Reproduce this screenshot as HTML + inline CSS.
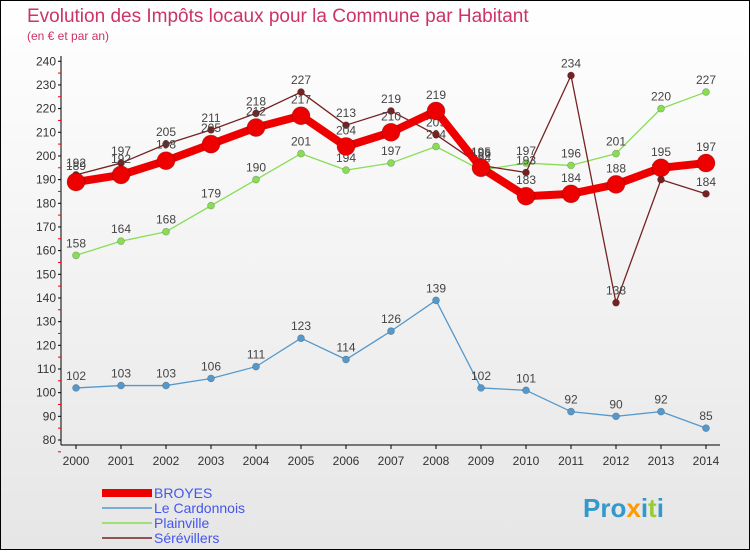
<!DOCTYPE html>
<html><head><meta charset="utf-8"><style>
body{margin:0;width:750px;height:550px;overflow:hidden;font-family:"Liberation Sans",sans-serif}
svg text{font-family:"Liberation Sans",sans-serif}
</style></head><body>
<svg id="c" width="750" height="550" xmlns="http://www.w3.org/2000/svg">
<defs><linearGradient id="bg" x1="0" y1="0" x2="0" y2="1"><stop offset="0" stop-color="#ffffff"/><stop offset="1" stop-color="#e6e6e6"/></linearGradient></defs>
<rect x="0.5" y="0.5" width="749" height="549" fill="url(#bg)" stroke="#000"/>
<text x="27" y="22" font-size="19" fill="#cc3366">Evolution des Impôts locaux pour la Commune par Habitant</text>
<text x="27" y="40" font-size="12" fill="#cc3366">(en € et par an)</text>
<g id="axes"></g><g id="series"></g><g id="legend"></g>
<text x="583" y="517" font-size="26" font-weight="bold" fill="#3399cc">Pro<tspan fill="#ff9900">x</tspan>i<tspan fill="#99cc33">t</tspan>i</text>
</svg>
<script>
const years=[2000,2001,2002,2003,2004,2005,2006,2007,2008,2009,2010,2011,2012,2013,2014];
const yTicks=[80,90,100,110,120,130,140,150,160,170,180,190,200,210,220,230,240];
const broyes=[189,192,198,205,212,217,204,210,219,195,183,184,188,195,197];
const cardonnois=[102,103,103,106,111,123,114,126,139,102,101,92,90,92,85];
const plainville=[158,164,168,179,190,201,194,197,204,194,197,196,201,220,227];
const serevillers=[192,197,205,211,218,227,213,219,209,196,193,234,138,190,184];
const NS="http://www.w3.org/2000/svg";
const xS=i=>76+i*45, yS=v=>440-(v-80)*2.367;
function mk(t,a,p){const e=document.createElementNS(NS,t);for(const k in a)e.setAttribute(k,a[k]);p.appendChild(e);return e;}
const ax=document.getElementById('axes');
let l=mk('line',{x1:61,y1:56,x2:61,y2:445,stroke:'#000'},ax);


l=mk('line',{x1:61,y1:445,x2:720,y2:445,stroke:'#000'},ax);


yTicks.forEach(v=>{const y=yS(v);
 mk('line',{x1:58,y1:y,x2:61,y2:y,stroke:'#000'},ax);
 mk('line',{x1:58,y1:y+11.8,x2:61,y2:y+11.8,stroke:'#e00'},ax);
 const t=mk('text',{x:56,y:y+4,'font-size':12,'text-anchor':'end',fill:'#333'},ax);t.textContent=v;
 
 });
years.forEach((yr,i)=>{const x=xS(i);
 mk('line',{x1:x,y1:445,x2:x,y2:449,stroke:'#000'},ax);
 const t=mk('text',{x:x,y:465,'font-size':12,'text-anchor':'middle',fill:'#333'},ax);t.textContent=yr;
 
 });
const sg=document.getElementById('series');
const defs=[[cardonnois,'#5599cc',1.3,3.5,'le-cardonnois'],[plainville,'#88dd55',1.3,3.5,'plainville'],[serevillers,'#772222',1.3,3.5,'serevillers'],[broyes,'#ee0000',8,9,'broyes']];
defs.forEach(([d,c,w,r,n])=>{
 const g=mk('g',{},sg);
 
 
 mk('polyline',{points:d.map((v,i)=>xS(i)+','+yS(v)).join(' '),fill:'none',stroke:c,'stroke-width':w,'stroke-linejoin':'round'},g);
 d.forEach((v,i)=>{const p=mk('circle',{cx:xS(i),cy:yS(v),r:r,fill:c,stroke:'rgba(0,0,0,0.25)','stroke-width':0.7},g);
  
  
  const t=mk('text',{x:xS(i),y:yS(v)-8-(r>5?4:0),'font-size':12,'text-anchor':'middle',fill:'#444'},g);t.textContent=v;
  
  });
});
const lg=document.getElementById('legend');
[['BROYES','#ee0000',8],['Le Cardonnois','#5599cc',1.5],['Plainville','#88dd55',1.5],['Sérévillers','#772222',1.5]].forEach(([n,c,w],i)=>{
 const y=493+i*15;
 const e=mk('g',{},lg);
 
 
 mk('line',{x1:102,y1:y,x2:152,y2:y,stroke:c,'stroke-width':w},e);
 const t=mk('text',{x:154,y:y+5,'font-size':14,fill:'#4455ee'},e);t.textContent=n;
});
</script>
</body></html>
